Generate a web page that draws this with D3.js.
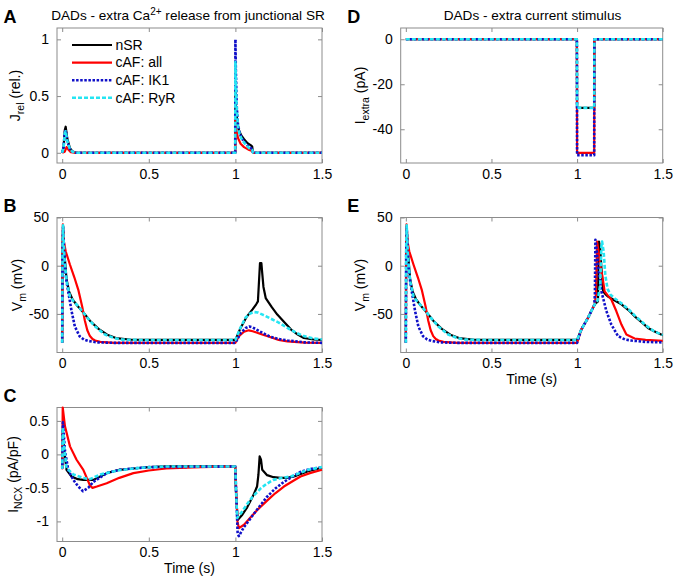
<!DOCTYPE html>
<html><head><meta charset="utf-8">
<script src="https://cdn.jsdelivr.net/npm/d3@7"></script>
<style>body{margin:0;background:#fff}svg{display:block;font-family:Arial,"Liberation Sans",sans-serif}</style>
</head><body><svg id="c" width="677" height="582"></svg>
<script>
// ---------- series names / legend ----------
const seriesNames = ["nSR", "cAF: all", "cAF: IK1", "cAF: RyR"];

// ---------- tick labels ----------
const xTicks = [0, 0.5, 1, 1.5];
const jrelTicks = [0, 0.5, 1];
const vmTicks = [-50, 0, 50];
const ncxTicks = [-1, -0.5, 0, 0.5];
const iextraTicks = [-40, -20, 0];

// ---------- Panel A: J_rel (rel.) ----------
const tJ_nSR = [0, 0.008, 0.015, 0.02, 0.03, 0.045, 0.06, 0.08, 0.999, 1.0, 1.003, 1.01, 1.02, 1.035, 1.05, 1.07, 1.09, 1.097, 1.102, 1.5];
const J_nSR  = [0, 0.05, 0.2, 0.23, 0.12, 0.04, 0.01, 0, 0, 0.55, 0.42, 0.28, 0.2, 0.15, 0.12, 0.085, 0.065, 0.055, 0, 0];
const tJ_all = [0, 0.015, 0.025, 0.035, 0.05, 0.08, 0.999, 1.0, 1.005, 1.015, 1.03, 1.05, 1.08, 1.097, 1.102, 1.5];
const J_all  = [0, 0.01, 0.05, 0.03, 0.005, 0, 0, 0.3, 0.2, 0.13, 0.08, 0.05, 0.025, 0.015, 0, 0];
const tJ_ik1 = [0, 0.008, 0.015, 0.02, 0.03, 0.045, 0.06, 0.08, 0.999, 1.0, 1.003, 1.008, 1.015, 1.025, 1.04, 1.06, 1.08, 1.097, 1.102, 1.5];
const J_ik1  = [0, 0.05, 0.18, 0.2, 0.1, 0.03, 0.01, 0, 0, 1.0, 0.7, 0.4, 0.25, 0.17, 0.12, 0.08, 0.05, 0.035, 0, 0];
const tJ_ryr = [0, 0.008, 0.015, 0.02, 0.03, 0.045, 0.06, 0.08, 0.999, 1.0, 1.003, 1.008, 1.015, 1.025, 1.04, 1.06, 1.08, 1.097, 1.102, 1.5];
const J_ryr  = [0, 0.05, 0.17, 0.19, 0.1, 0.03, 0.01, 0, 0, 0.8, 0.6, 0.38, 0.23, 0.16, 0.11, 0.07, 0.04, 0.025, 0, 0];

// ---------- first action potential (same in B and E) ----------
const tAP_nSR = [0, 0.002, 0.005, 0.012, 0.025, 0.04, 0.06, 0.09, 0.12, 0.16, 0.21, 0.26, 0.31, 0.4, 0.5];
const AP_nSR  = [-80, 20, 41, 15, -14, -27, -35, -42, -48, -57, -65.5, -71.5, -75, -76.8, -77];
const tAP_all = [0, 0.002, 0.004, 0.01, 0.02, 0.045, 0.07, 0.093, 0.115, 0.131, 0.145, 0.16, 0.175, 0.19, 0.22, 0.3];
const AP_all  = [-80, 10, 43, 25, 15, 1, -12, -25, -42, -57, -67, -73, -76, -77.6, -79, -80];
const tAP_ik1 = [0, 0.002, 0.005, 0.01, 0.016, 0.025, 0.035, 0.054, 0.073, 0.1, 0.125, 0.15, 0.2, 0.3];
const AP_ik1  = [-80, 10, 40, 20, -2, -16, -27, -47, -63, -73, -76.5, -78, -79.5, -80];
const tAP_ryr = [0, 0.002, 0.005, 0.012, 0.025, 0.045, 0.07, 0.093, 0.131, 0.16, 0.19, 0.247, 0.3, 0.344, 0.45];
const AP_ryr  = [-80, 20, 42, 10, -16, -32, -38, -42, -50.7, -57, -63, -71.4, -75, -76.6, -77];

// ---------- Panel B: second beat (extra Ca release) ----------
const tB2_nSR = [1.0, 1.03, 1.067, 1.1, 1.12, 1.13, 1.142, 1.15, 1.155, 1.162, 1.175, 1.21, 1.242, 1.28, 1.32, 1.36, 1.395, 1.45, 1.5];
const B2_nSR  = [-77, -64.5, -52.5, -45, -40, -37, 2.8, 2.8, -8, -22, -33.5, -43, -50.7, -58, -66, -71.5, -75, -76.5, -77];
const tB2_all = [1.0, 1.02, 1.05, 1.077, 1.1, 1.15, 1.2, 1.25, 1.3, 1.4, 1.5];
const B2_all  = [-80, -73, -68.5, -67, -68, -71, -74, -77, -78.5, -79.8, -80];
const tB2_ik1 = [1.0, 1.03, 1.06, 1.08, 1.1, 1.13, 1.16, 1.2, 1.25, 1.3, 1.4, 1.5];
const B2_ik1  = [-80, -70, -64.5, -63, -64, -67, -70, -73.5, -76, -77.5, -79.5, -80];
const tB2_ryr = [1.0, 1.03, 1.058, 1.085, 1.106, 1.13, 1.16, 1.2, 1.25, 1.3, 1.35, 1.395, 1.45, 1.5];
const B2_ryr  = [-77, -64, -54, -49.5, -48, -48.5, -51, -54.5, -59, -64.5, -69.5, -73, -75.5, -76.5];

// ---------- Panel E: second beat (extra current stimulus) ----------
const tE2_nSR = [1.0, 1.025, 1.064, 1.103, 1.122, 1.125, 1.128, 1.135, 1.143, 1.152, 1.165, 1.181, 1.22, 1.259, 1.3, 1.336, 1.38, 1.414, 1.45, 1.5];
const E2_nSR  = [-77, -66, -54, -40, -37, 5, 25, 18, -5, -26.6, -29.5, -32, -36, -40, -46, -52.5, -59, -64.5, -68, -72];
const tE2_all = [1.0, 1.025, 1.064, 1.103, 1.11, 1.117, 1.125, 1.135, 1.146, 1.161, 1.18, 1.2, 1.229, 1.259, 1.288, 1.336, 1.4, 1.5];
const E2_all  = [-80, -66, -54, -40, -30, 25, 15, 0, -9, -26.6, -31, -35, -47, -61, -71.4, -75.5, -77, -78];
const tE2_ik1 = [1.0, 1.025, 1.064, 1.1, 1.104, 1.107, 1.115, 1.122, 1.142, 1.171, 1.2, 1.239, 1.28, 1.317, 1.4, 1.5];
const E2_ik1  = [-80, -66, -54, -41, -30, 27, 15, 1, -26.6, -47, -61, -73, -76.5, -77.6, -79, -79.5];
const tE2_ryr = [1.0, 1.025, 1.064, 1.103, 1.12, 1.135, 1.142, 1.146, 1.155, 1.165, 1.178, 1.195, 1.22, 1.259, 1.3, 1.336, 1.38, 1.414, 1.45, 1.5];
const E2_ryr  = [-77, -66, -54, -40, -36, -20, 20, 25, 15, -10, -24, -30, -34, -39, -45, -51.5, -58.5, -63.5, -68, -72];

// ---------- Panel C: I_NCX (pA/pF) ----------
const tN_nSR = [0, 0.0005, 0.003, 0.01, 0.025, 0.054, 0.09, 0.122, 0.18, 0.257, 0.33, 0.41, 0.5, 0.6, 0.999, 1.002, 1.013, 1.04, 1.068, 1.1, 1.125, 1.133, 1.14, 1.148, 1.155, 1.183, 1.22, 1.26, 1.3, 1.35, 1.42, 1.5];
const N_nSR  = [-0.18, -0.2, 0.35, 0.1, -0.23, -0.33, -0.37, -0.38, -0.38, -0.28, -0.23, -0.21, -0.19, -0.18, -0.18, -0.5, -0.98, -0.9, -0.79, -0.63, -0.48, -0.3, -0.03, -0.08, -0.23, -0.31, -0.34, -0.35, -0.35, -0.32, -0.25, -0.2];
const tN_all = [0, 0.0005, 0.003, 0.016, 0.045, 0.083, 0.122, 0.16, 0.175, 0.2, 0.257, 0.33, 0.411, 0.5, 0.6, 0.8, 0.999, 1.012, 1.02, 1.05, 1.087, 1.13, 1.183, 1.23, 1.28, 1.33, 1.376, 1.43, 1.5];
const N_all  = [-0.18, -0.21, 0.7, 0.42, 0.12, -0.08, -0.23, -0.46, -0.5, -0.48, -0.43, -0.35, -0.28, -0.24, -0.21, -0.19, -0.18, -1.0, -1.1, -1.05, -0.94, -0.82, -0.69, -0.58, -0.48, -0.4, -0.33, -0.28, -0.23];
const tN_ik1 = [0, 0.0005, 0.004, 0.016, 0.035, 0.064, 0.09, 0.12, 0.15, 0.18, 0.257, 0.33, 0.41, 0.5, 0.999, 1.013, 1.02, 1.048, 1.106, 1.18, 1.23, 1.28, 1.33, 1.376, 1.43, 1.5];
const N_ik1  = [-0.18, -0.2, 0.48, 0.05, -0.23, -0.38, -0.47, -0.55, -0.5, -0.41, -0.28, -0.23, -0.21, -0.19, -0.18, -1.18, -1.22, -1.09, -0.89, -0.64, -0.51, -0.41, -0.33, -0.26, -0.22, -0.19];
const tN_ryr = [0, 0.0005, 0.003, 0.012, 0.025, 0.064, 0.12, 0.16, 0.22, 0.32, 0.45, 0.6, 0.999, 1.01, 1.04, 1.068, 1.1, 1.145, 1.18, 1.22, 1.27, 1.32, 1.37, 1.42, 1.5];
const N_ryr  = [-0.18, -0.2, 0.4, 0.1, -0.2, -0.3, -0.35, -0.37, -0.3, -0.24, -0.2, -0.18, -0.18, -0.95, -0.85, -0.74, -0.63, -0.51, -0.44, -0.38, -0.35, -0.33, -0.28, -0.23, -0.19];

// ---------- Panel D: I_extra (pA) ----------
const tX = [0, 0.999, 1.0, 1.1, 1.101, 1.5];
const X_nSR = [0, 0, -30.5, -30.5, 0, 0];
const X_all = [0, 0, -50.5, -50.5, 0, 0];
const X_ik1 = [0, 0, -51.5, -51.5, 0, 0];
const X_ryr = [0, 0, -30.5, -30.5, 0, 0];

// ---------- styles ----------
const styles = [
  {color: "#000000", width: 2.2, dash: null},
  {color: "#ff0000", width: 2.2, dash: null},
  {color: "#1010c8", width: 2.6, dash: "2.5,1.6"},
  {color: "#25e5f2", width: 2.6, dash: "4,2"}
];
const AX = "#8c8c8c";
const FS = 14;

const zip = (t, v) => t.map((d, i) => [d, v[i]]);
const svg = d3.select("#c");

function panel(cfg) {
  const g = svg.append("g");
  const x = d3.scaleLinear().domain([-0.03, 1.5]).range([cfg.x0, cfg.x1]);
  const y = d3.scaleLinear().domain(cfg.yDom).range([cfg.y1, cfg.y0]);
  const fmt = d => String(d);
  g.append("rect").attr("x", cfg.x0).attr("y", cfg.y0).attr("width", cfg.x1 - cfg.x0).attr("height", cfg.y1 - cfg.y0)
    .attr("fill", "none").attr("stroke", AX).attr("stroke-width", 1);
  const axB = g.append("g").attr("transform", `translate(0,${cfg.y1})`)
    .call(d3.axisBottom(x).tickValues(xTicks).tickSizeInner(-4).tickSizeOuter(0).tickPadding(6).tickFormat(fmt));
  const axT = g.append("g").attr("transform", `translate(0,${cfg.y0})`)
    .call(d3.axisTop(x).tickValues(xTicks).tickSizeInner(-4).tickSizeOuter(0).tickFormat(""));
  const axL = g.append("g").attr("transform", `translate(${cfg.x0},0)`)
    .call(d3.axisLeft(y).tickValues(cfg.yTicks).tickSizeInner(-4).tickSizeOuter(0).tickPadding(8).tickFormat(fmt));
  const axR = g.append("g").attr("transform", `translate(${cfg.x1},0)`)
    .call(d3.axisRight(y).tickValues(cfg.yTicks).tickSizeInner(-4).tickSizeOuter(0).tickFormat(""));
  [axB, axT, axL, axR].forEach(a => {
    a.select(".domain").remove();
    a.selectAll("line").attr("stroke", AX);
    a.selectAll("text").attr("font-size", FS).attr("fill", "#000").attr("font-family", "Arial, 'Liberation Sans', sans-serif");
  });
  const line = d3.line().x(d => x(d[0])).y(d => y(d[1]));
  cfg.series.forEach((s, i) => {
    const st = styles[i];
    g.append("path").datum(s).attr("d", line).attr("fill", "none")
      .attr("stroke", st.color).attr("stroke-width", st.width)
      .attr("stroke-dasharray", st.dash).attr("stroke-linejoin", "round");
  });
  g.append("text").attr("x", cfg.x0 - 53.5).attr("y", cfg.y0 - 5.5).attr("font-size", 18).attr("font-weight", "bold").text(cfg.letter);
  const yl = g.append("text").attr("transform", `translate(${cfg.ylx},${(cfg.y0 + cfg.y1) / 2}) rotate(-90)`)
    .attr("text-anchor", "middle").attr("font-size", FS);
  yl.append("tspan").text(cfg.ylab[0]);
  yl.append("tspan").attr("font-size", 10.5).attr("dy", 4).text(cfg.ylab[1]);
  yl.append("tspan").attr("dy", -4).text(" " + cfg.ylab[2]);
  if (cfg.xlab) {
    g.append("text").attr("x", (cfg.x0 + cfg.x1) / 2).attr("y", cfg.y1 + 31.5).attr("text-anchor", "middle")
      .attr("font-size", FS).text("Time (s)");
  }
  return {g, x, y};
}

const L = {x0: 57, x1: 322}, R = {x0: 400.7, x1: 662.7};

const pA = panel({...L, y0: 28, y1: 163, yDom: [-0.09, 1.1], yTicks: jrelTicks, letter: "A", ylx: 20, ylab: ["J", "rel", "(rel.)"],
  series: [zip(tJ_nSR, J_nSR), zip(tJ_all, J_all), zip(tJ_ik1, J_ik1), zip(tJ_ryr, J_ryr)]});
panel({...L, y0: 217.5, y1: 352.5, yDom: [-90, 50], yTicks: vmTicks, letter: "B", ylx: 21.5, ylab: ["V", "m", "(mV)"],
  series: [zip(tAP_nSR.concat(tB2_nSR), AP_nSR.concat(B2_nSR)), zip(tAP_all.concat(tB2_all), AP_all.concat(B2_all)),
           zip(tAP_ik1.concat(tB2_ik1), AP_ik1.concat(B2_ik1)), zip(tAP_ryr.concat(tB2_ryr), AP_ryr.concat(B2_ryr))]});
panel({...L, y0: 407.5, y1: 541.5, yDom: [-1.3, 0.7], yTicks: ncxTicks, letter: "C", ylx: 17.5, ylab: ["I", "NCX", "(pA/pF)"], xlab: true,
  series: [zip(tN_nSR, N_nSR), zip(tN_all, N_all), zip(tN_ik1, N_ik1), zip(tN_ryr, N_ryr)]});
panel({...R, y0: 28, y1: 163, yDom: [-55, 5], yTicks: iextraTicks, letter: "D", ylx: 364.5, ylab: ["I", "extra", "(pA)"],
  series: [zip(tX, X_nSR), zip(tX, X_all), zip(tX, X_ik1), zip(tX, X_ryr)]});
panel({...R, y0: 217.5, y1: 352.5, yDom: [-90, 50], yTicks: vmTicks, letter: "E", ylx: 365, ylab: ["V", "m", "(mV)"], xlab: true,
  series: [zip(tAP_nSR.concat(tE2_nSR), AP_nSR.concat(E2_nSR)), zip(tAP_all.concat(tE2_all), AP_all.concat(E2_all)),
           zip(tAP_ik1.concat(tE2_ik1), AP_ik1.concat(E2_ik1)), zip(tAP_ryr.concat(tE2_ryr), AP_ryr.concat(E2_ryr))]});

// titles
const t1 = svg.append("text").attr("x", 188).attr("y", 19.5).attr("text-anchor", "middle").attr("font-size", 13.6);
t1.append("tspan").text("DADs - extra Ca");
t1.append("tspan").attr("font-size", 10).attr("dy", -5).text("2+");
t1.append("tspan").attr("dy", 5).text(" release from junctional SR");
svg.append("text").attr("x", 532.5).attr("y", 19.5).attr("text-anchor", "middle").attr("font-size", 13.6).text("DADs - extra current stimulus");

// legend (panel A)
const lg = pA.g.append("g");
seriesNames.forEach((n, i) => {
  const yy = 45 + i * 17.6, st = styles[i];
  lg.append("line").attr("x1", 72).attr("x2", 112).attr("y1", yy).attr("y2", yy)
    .attr("stroke", st.color).attr("stroke-width", st.width).attr("stroke-dasharray", st.dash);
  lg.append("text").attr("x", 115.5).attr("y", yy + 4.8).attr("font-size", FS).text(n);
});
</script></body></html>
